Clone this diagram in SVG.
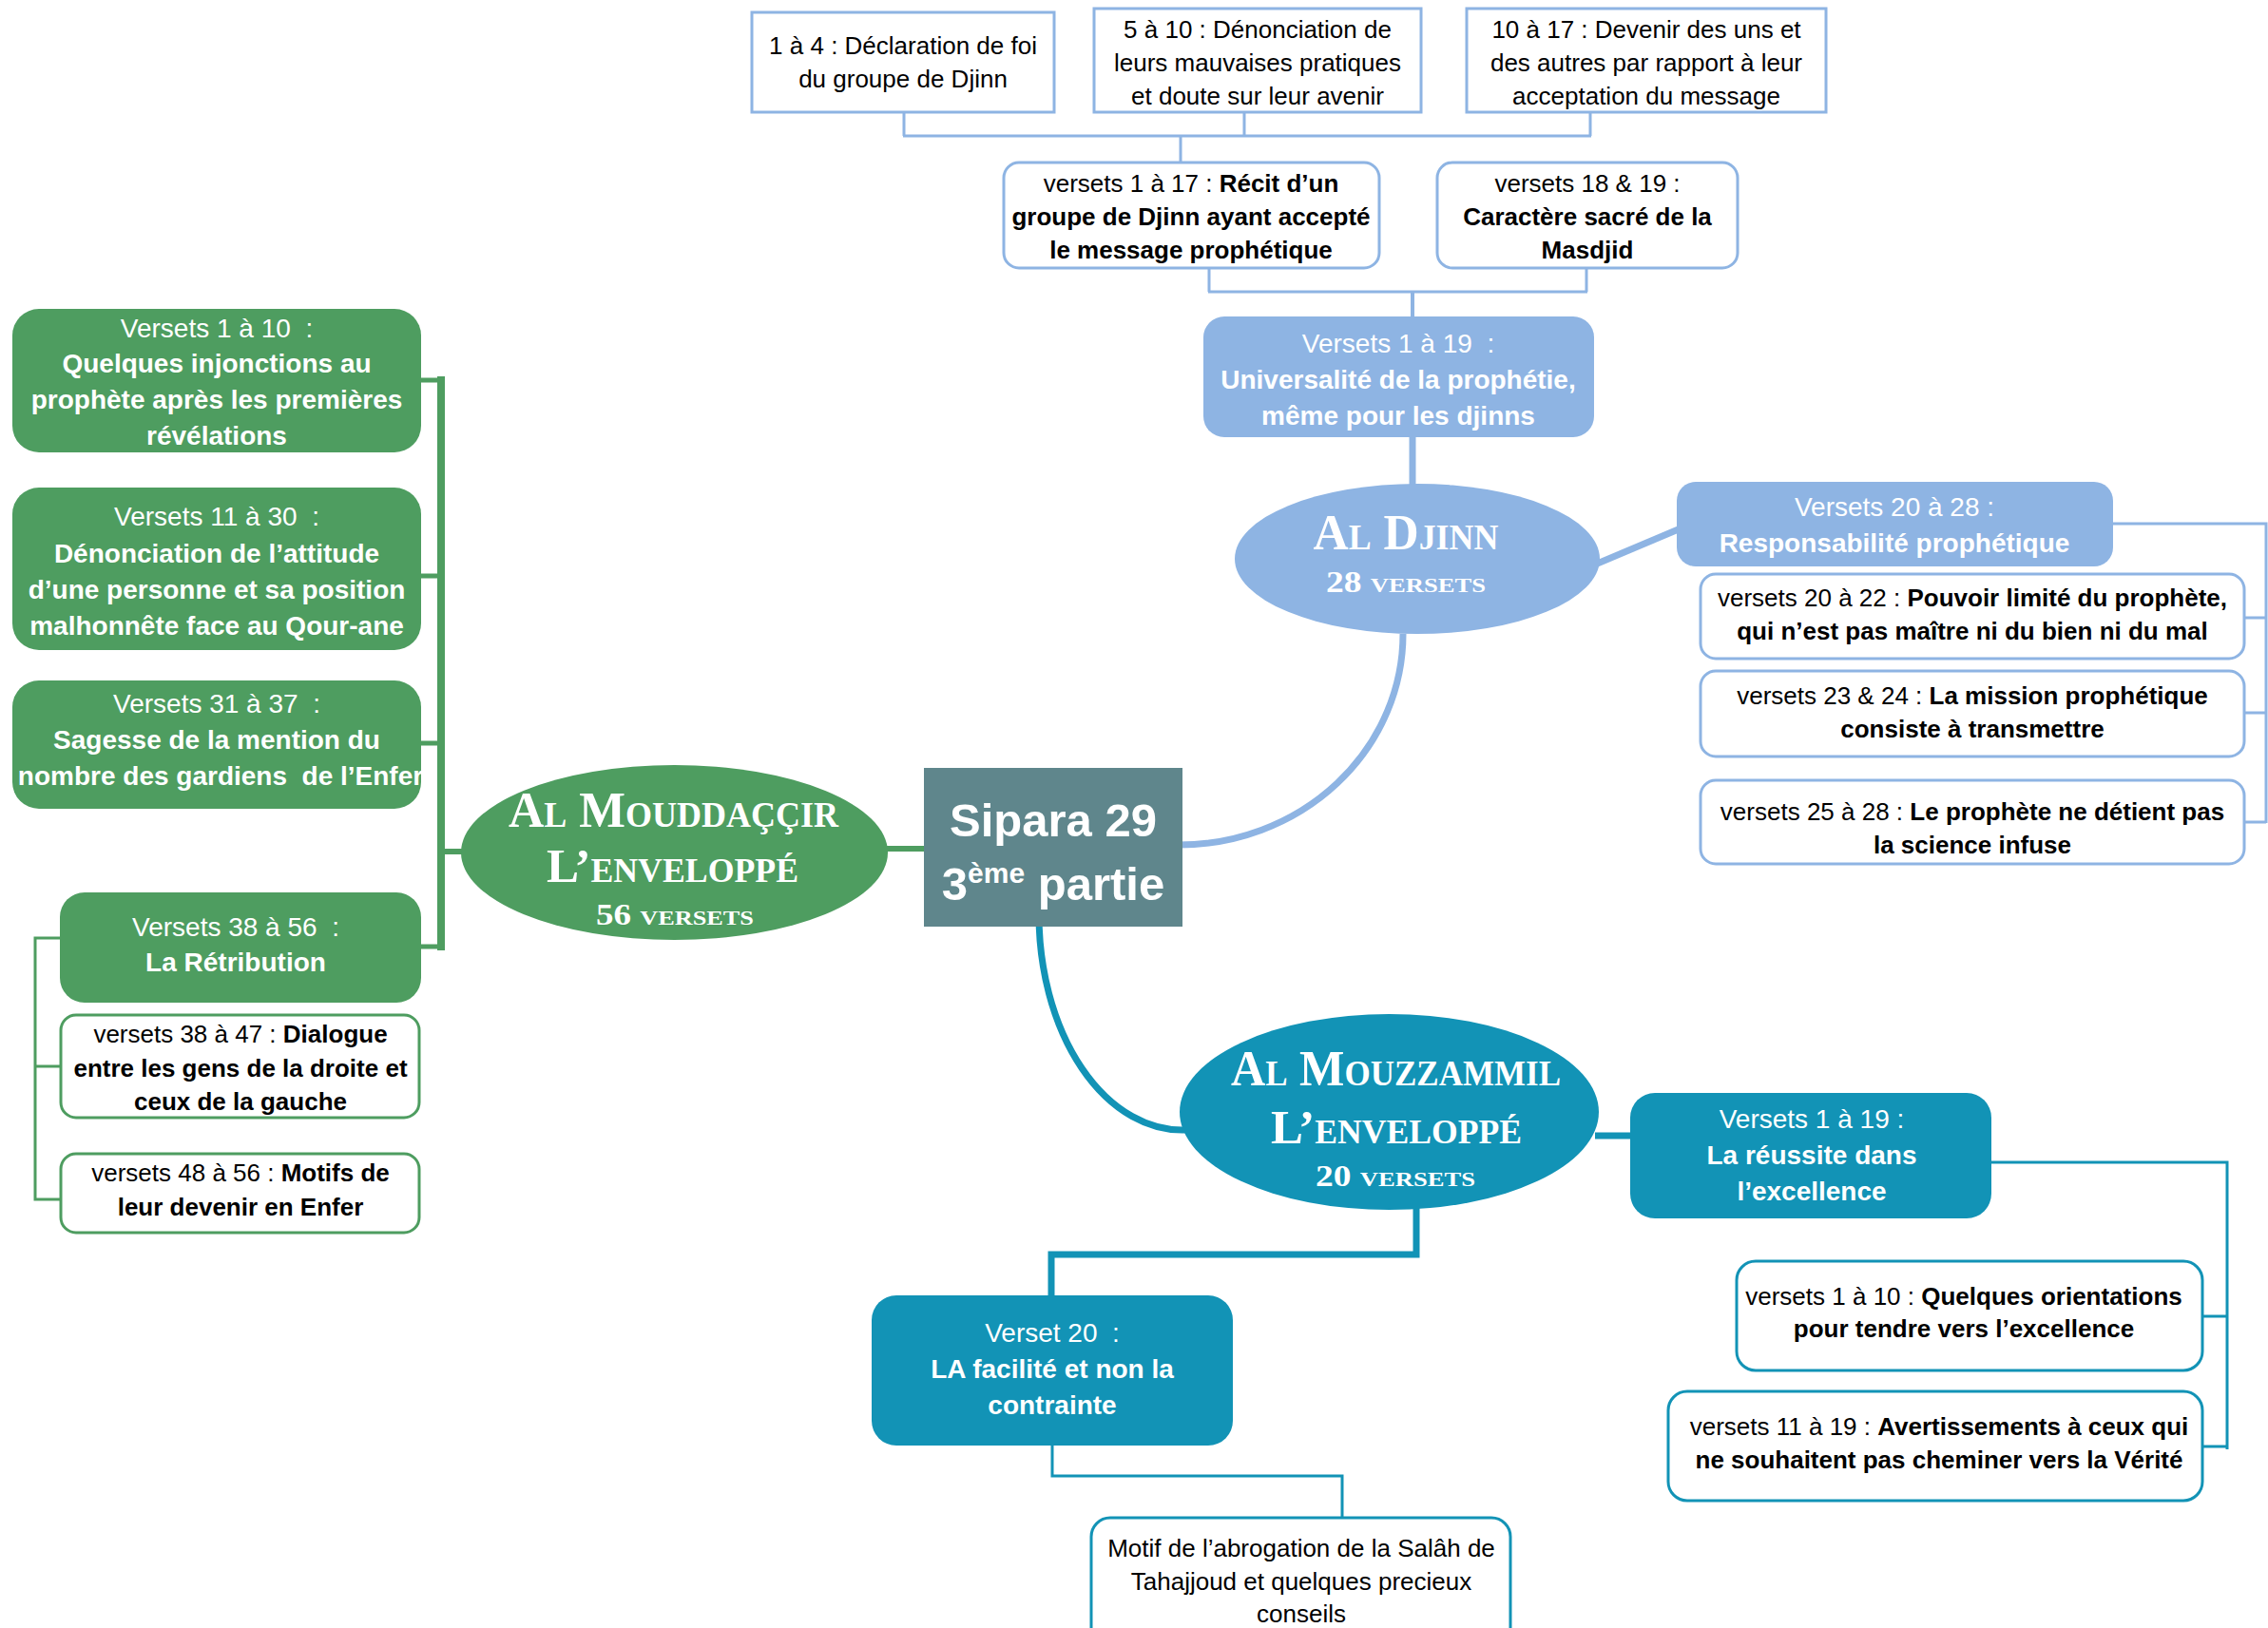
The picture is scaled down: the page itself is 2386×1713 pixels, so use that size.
<svg xmlns="http://www.w3.org/2000/svg" width="2386" height="1713" viewBox="0 0 2386 1713">
<style>
.t{font-family:"Liberation Sans",Arial,sans-serif;font-size:26px;text-anchor:middle;white-space:pre;fill:#000}
.f{font-size:28px;fill:#fff}
.b{font-weight:bold}
.sp{font-size:49px;fill:#fff}
.ttl{font-family:"Liberation Serif","Times New Roman",serif;font-weight:bold;font-variant:small-caps;fill:#fff;text-anchor:middle}
.lb{fill:#fff;stroke:#8EB4E3;stroke-width:3}
.gb{fill:#fff;stroke:#4E9D60;stroke-width:3}
.tb{fill:#fff;stroke:#1293B6;stroke-width:3}
.cl{fill:none;stroke:#8EB4E3}
.cg{fill:none;stroke:#4E9D60}
.ct{fill:none;stroke:#1293B6}
</style>
<rect width="2386" height="1713" fill="#fff"/>
<g id="connectors">
  <path class="cl" stroke-width="3" d="M951,118V143M1309,118V143M1673,118V143M950,143H1674M1242,143V171"/>
  <path class="cl" stroke-width="3" d="M1272,282V307M1669,282V307M1271,307H1670"/>
  <path class="cl" stroke-width="4" d="M1486,307V334"/>
  <path class="cl" stroke-width="7" d="M1486,459V512"/>
  <path class="cl" stroke-width="7" d="M1678,594L1768,556"/>
  <path class="cl" stroke-width="3" d="M2222,551H2384V866M2360,650H2384M2360,750H2384M2360,865H2384"/>
  <path class="cl" stroke-width="7" d="M1240,889A236,222 0 0 0 1476,667"/>
  <path class="ct" stroke-width="7" d="M1093,960A151,227 0 0 0 1248,1189"/>
  <path class="ct" stroke-width="7" d="M1678,1195H1716"/>
  <path class="ct" stroke-width="7" d="M1490,1270V1320H1106V1364"/>
  <path class="ct" stroke-width="3" d="M2094,1223H2343V1525M2316,1385H2343M2316,1522H2343"/>
  <path class="ct" stroke-width="3" d="M1107,1520V1553H1412V1598"/>
  <path class="cg" stroke-width="8" d="M464,396V1000"/>
  <path class="cg" stroke-width="5" d="M442,400H468M442,606H468M442,782H468M442,996H468"/>
  <path class="cg" stroke-width="6" d="M466,896H488M932,893H973"/>
  <path class="cg" stroke-width="3" d="M64,987H37V1262H65M37,1122H65"/>
</g>
<g id="n-top1"><rect class="lb" x="791" y="13" width="318" height="105"/>
<text class="t" x="950" y="57">1 à 4 : Déclaration de foi</text>
<text class="t" x="950" y="92">du groupe de Djinn</text></g>
<g id="n-top2"><rect class="lb" x="1151" y="9" width="344" height="109"/>
<text class="t" x="1323" y="40">5 à 10 : Dénonciation de</text>
<text class="t" x="1323" y="75">leurs mauvaises pratiques</text>
<text class="t" x="1323" y="110">et doute sur leur avenir</text></g>
<g id="n-top3"><rect class="lb" x="1543" y="9" width="378" height="109"/>
<text class="t" x="1732" y="40">10 à 17 : Devenir des uns et</text>
<text class="t" x="1732" y="75">des autres par rapport à leur</text>
<text class="t" x="1732" y="110">acceptation du message</text></g>
<g id="n-recit"><rect class="lb" x="1056" y="171" width="395" height="111" rx="16"/>
<text class="t" x="1253" y="202">versets 1 à 17 : <tspan class="b">Récit d’un</tspan></text>
<text class="t b" x="1253" y="237">groupe de Djinn ayant accepté</text>
<text class="t b" x="1253" y="272">le message prophétique</text></g>
<g id="n-masdjid"><rect class="lb" x="1512" y="171" width="316" height="111" rx="16"/>
<text class="t" x="1670" y="202">versets 18 &amp; 19 :</text>
<text class="t b" x="1670" y="237">Caractère sacré de la</text>
<text class="t b" x="1670" y="272">Masdjid</text></g>
<g id="n-djinn-1-19"><rect x="1266" y="333" width="411" height="127" rx="22" fill="#8EB4E3"/>
<text class="t f" x="1471" y="371">Versets 1 à 19  :</text>
<text class="t f b" x="1471" y="409">Universalité de la prophétie,</text>
<text class="t f b" x="1471" y="447">même pour les djinns</text></g>
<g id="n-djinn"><ellipse cx="1491" cy="588" rx="192" ry="79" fill="#8EB4E3"/>
<text class="ttl" x="1479" y="578" font-size="53" textLength="195" lengthAdjust="spacingAndGlyphs">Al Djinn</text>
<text class="ttl" x="1479" y="623" font-size="31" textLength="168" lengthAdjust="spacingAndGlyphs">28 versets</text></g>
<g id="n-djinn-20-28"><rect x="1764" y="507" width="459" height="89" rx="20" fill="#8EB4E3"/>
<text class="t f" x="1993" y="543">Versets 20 à 28 :</text>
<text class="t f b" x="1993" y="581">Responsabilité prophétique</text></g>
<g id="n-v20-22"><rect class="lb" x="1789" y="604" width="572" height="89" rx="16"/>
<text class="t" x="2075" y="638">versets 20 à 22 : <tspan class="b">Pouvoir limité du prophète,</tspan></text>
<text class="t b" x="2075" y="673">qui n’est pas maître ni du bien ni du mal</text></g>
<g id="n-v23-24"><rect class="lb" x="1789" y="706" width="572" height="90" rx="16"/>
<text class="t" x="2075" y="741">versets 23 &amp; 24 : <tspan class="b">La mission prophétique</tspan></text>
<text class="t b" x="2075" y="776">consiste à transmettre</text></g>
<g id="n-v25-28"><rect class="lb" x="1789" y="821" width="572" height="88" rx="16"/>
<text class="t" x="2075" y="863">versets 25 à 28 : <tspan class="b">Le prophète ne détient pas</tspan></text>
<text class="t b" x="2075" y="898">la science infuse</text></g>
<g id="n-md-1-10"><rect x="13" y="325" width="430" height="151" rx="28" fill="#4E9D60"/>
<text class="t f" x="228" y="355">Versets 1 à 10  :</text>
<text class="t f b" x="228" y="392">Quelques injonctions au</text>
<text class="t f b" x="228" y="430">prophète après les premières</text>
<text class="t f b" x="228" y="468">révélations</text></g>
<g id="n-md-11-30"><rect x="13" y="513" width="430" height="171" rx="28" fill="#4E9D60"/>
<text class="t f" x="228" y="553">Versets 11 à 30  :</text>
<text class="t f b" x="228" y="592">Dénonciation de l’attitude</text>
<text class="t f b" x="228" y="630">d’une personne et sa position</text>
<text class="t f b" x="228" y="668">malhonnête face au Qour-ane</text></g>
<g id="n-md-31-37"><rect x="13" y="716" width="430" height="135" rx="28" fill="#4E9D60"/>
<text class="t f" x="228" y="750">Versets 31 à 37  :</text>
<text class="t f b" x="228" y="788">Sagesse de la mention du</text>
<text class="t f b" x="232" y="826">nombre des gardiens  de l’Enfer</text></g>
<g id="n-mouddaccir"><ellipse cx="709.5" cy="897" rx="224.5" ry="92" fill="#4E9D60"/>
<text class="ttl" x="708.5" y="870" font-size="53" textLength="347" lengthAdjust="spacingAndGlyphs">Al Mouddaççir</text>
<text class="ttl" x="707.5" y="928" font-size="50" textLength="265" lengthAdjust="spacingAndGlyphs">L’enveloppé</text>
<text class="ttl" x="710" y="973" font-size="31" textLength="166" lengthAdjust="spacingAndGlyphs">56 versets</text></g>
<g id="n-md-38-56"><rect x="63" y="939" width="380" height="116" rx="26" fill="#4E9D60"/>
<text class="t f" x="248" y="985">Versets 38 à 56  :</text>
<text class="t f b" x="248" y="1022">La Rétribution</text></g>
<g id="n-v38-47"><rect class="gb" x="64" y="1068" width="377" height="108" rx="16"/>
<text class="t" x="253" y="1097">versets 38 à 47 : <tspan class="b">Dialogue</tspan></text>
<text class="t b" x="253" y="1133">entre les gens de la droite et</text>
<text class="t b" x="253" y="1168">ceux de la gauche</text></g>
<g id="n-v48-56"><rect class="gb" x="64" y="1214" width="377" height="83" rx="16"/>
<text class="t" x="253" y="1243">versets 48 à 56 : <tspan class="b">Motifs de</tspan></text>
<text class="t b" x="253" y="1279">leur devenir en Enfer</text></g>
<g id="n-sipara"><rect x="972" y="808" width="272" height="167" fill="#5F868C"/>
<text class="t b sp" x="1108" y="880">Sipara 29</text>
<text class="t b sp" x="1108" y="947">3<tspan style="font-size:30px" dy="-18">ème</tspan><tspan dy="18"> partie</tspan></text></g>
<g id="n-mouzzammil"><ellipse cx="1461.5" cy="1170" rx="220.5" ry="103" fill="#1293B6"/>
<text class="ttl" x="1468.5" y="1142" font-size="53" textLength="347" lengthAdjust="spacingAndGlyphs">Al Mouzzammil</text>
<text class="ttl" x="1469" y="1203" font-size="50" textLength="264" lengthAdjust="spacingAndGlyphs">L’enveloppé</text>
<text class="ttl" x="1468" y="1248" font-size="31" textLength="168" lengthAdjust="spacingAndGlyphs">20 versets</text></g>
<g id="n-mz-1-19"><rect x="1715" y="1150" width="380" height="132" rx="26" fill="#1293B6"/>
<text class="t f" x="1906" y="1187">Versets 1 à 19 :</text>
<text class="t f b" x="1906" y="1225">La réussite dans</text>
<text class="t f b" x="1906" y="1263">l’excellence</text></g>
<g id="n-v1-10"><rect class="tb" x="1827" y="1327" width="490" height="115" rx="20"/>
<text class="t" x="2066" y="1373">versets 1 à 10 : <tspan class="b">Quelques orientations</tspan></text>
<text class="t b" x="2066" y="1407">pour tendre vers l’excellence</text></g>
<g id="n-v11-19"><rect class="tb" x="1755" y="1464" width="562" height="115" rx="20"/>
<text class="t" x="2040" y="1510">versets 11 à 19 : <tspan class="b">Avertissements à ceux qui</tspan></text>
<text class="t b" x="2040" y="1545">ne souhaitent pas cheminer vers la Vérité</text></g>
<g id="n-mz-20"><rect x="917" y="1363" width="380" height="158" rx="26" fill="#1293B6"/>
<text class="t f" x="1107" y="1412">Verset 20  :</text>
<text class="t f b" x="1107" y="1450">LA facilité et non la</text>
<text class="t f b" x="1107" y="1488">contrainte</text></g>
<g id="n-motif"><rect class="tb" x="1148" y="1597" width="441" height="140" rx="20"/>
<text class="t" x="1369" y="1638">Motif de l’abrogation de la Salâh de</text>
<text class="t" x="1369" y="1673">Tahajjoud et quelques precieux</text>
<text class="t" x="1369" y="1707">conseils</text></g>
</svg>
